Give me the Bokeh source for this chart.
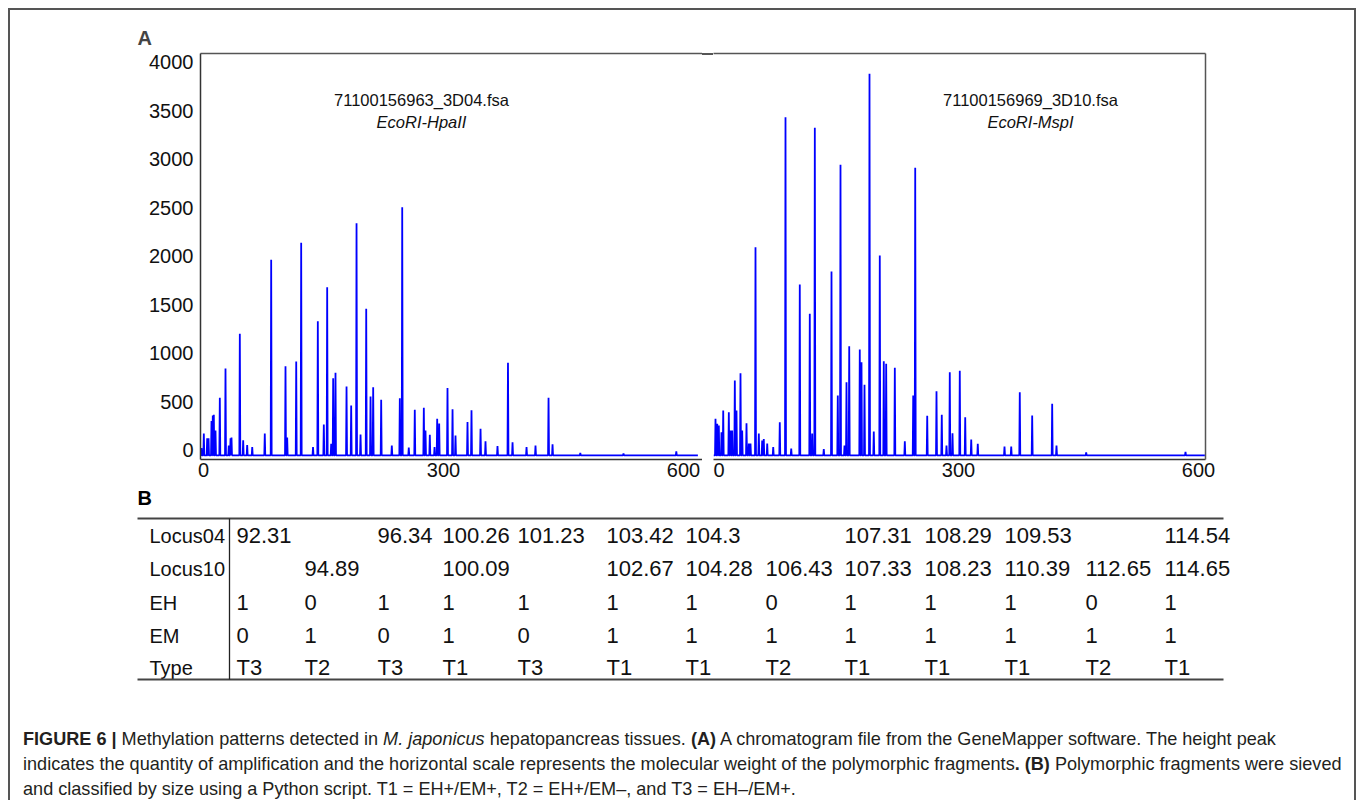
import numpy as np
from bokeh.plotting import figure
from bokeh.models import Range1d, FixedTicker, LinearAxis, Div, ColumnDataSource
from bokeh.layouts import row, column
from bokeh.core.properties import value
from bokeh.embed import file_html
from bokeh.resources import INLINE

# ---------------- data ----------------
y_ticks = [0, 500, 1000, 1500, 2000, 2500, 3000, 3500, 4000]
x_ticks = [0, 300, 600]

# EcoRI-HpaII chromatogram: peak positions (size) and heights
hpa_pos = [-2.5, 0.4, 4.6, 6.3, 10.0, 11.6, 12.9, 15.0, 20.4, 27.5, 31.6, 33.8, 35.0, 45.4, 49.6,
           54.6, 60.9, 76.6, 84.6, 102.5, 104.6, 115.9, 122.1, 136.9, 142.9, 150.4, 154.6, 159.6,
           162.1, 165.0, 178.8, 184.6, 191.3, 196.3, 203.4, 208.8, 212.1, 222.1, 235.4, 245.4,
           248.4, 256.6, 264.1, 275.4, 277.5, 282.9, 288.8, 292.1, 294.6, 305.0, 311.3, 315.0,
           330.0, 335.0, 346.3, 352.5, 367.5, 380.6, 386.3, 403.8, 415.0, 431.3, 436.3, 471.0,
           525.0, 591.0]
hpa_height = [20, 170, 120, 120, 300, 355, 365, 200, 540, 840, 45, 120, 130, 1200, 100,
              50, 30, 170, 1963, 865, 130, 913, 2138, 30, 1330, 263, 1680, 65,
              741, 797, 655, 459, 2340, 160, 1457, 552, 648, 518, 46, 535,
              2506, 25, 415, 435, 200, 157, 30, 322, 273, 640, 420, 150,
              290, 410, 220, 90, 40, 900, 80, 30, 45, 540, 60, -30,
              -35, -15]
hpa_baseline = -55
hpa_span = [-3.75, 618.0]

# EcoRI-MspI chromatogram
msp_pos = [-3.75, -1.6, 0.4, 3.75, 5.9, 12.9, 15.0, 17.1, 20.4, 22.5, 27.5, 29.6, 35.0, 37.9, 40.0,
           46.25, 50.4, 54.6, 56.6, 60.9, 68.4, 76.6, 83.75, 90.9, 101.6, 114.1, 117.1, 120.4,
           131.6, 141.25, 149.1, 152.5, 157.5, 160.0, 163.4, 176.6, 178.75, 182.5, 188.75, 194.1,
           201.6, 206.6, 209.6, 220.4, 232.9, 243.4, 245.9, 260.9, 272.5, 279.1, 285.0, 289.1,
           292.5, 301.6, 308.4, 315.9, 324.1, 357.5, 365.9, 376.6, 392.1, 417.1, 422.5, 459.6,
           583.75]
msp_height = [322, 270, 253, 184, 408, 390, 200, 200, 717, 408, 793, 200, 277, 67, 67,
              2093, 170, 98, 113, 67, 30, 287, 3435, 15, 1708, 1405, 170, 3325,
              10, 1842, 562, 2943, 46, 700, 1071, 1037, 906, 673, 3882, 191,
              2007, 916, 890, 848, 91, 562, 2912, 353, 607, 363, 46, 803,
              173, 817, 338, 108, 64, 36, 36, 597, 356, 477, 46, -25,
              -20]
msp_baseline = -55
msp_span = [-6.25, 608.0]

hpa_file = "71100156963_3D04.fsa"
hpa_enzyme = "EcoRI-HpaII"
msp_file = "71100156969_3D10.fsa"
msp_enzyme = "EcoRI-MspI"

# table
row_labels = ["Locus04", "Locus10", "EH", "EM", "Type"]
locus04 = ["92.31", "", "96.34", "100.26", "101.23", "103.42", "104.3", "", "107.31", "108.29", "109.53", "", "114.54"]
locus10 = ["", "94.89", "", "100.09", "", "102.67", "104.28", "106.43", "107.33", "108.23", "110.39", "112.65", "114.65"]
eh = [1, 0, 1, 1, 1, 1, 1, 0, 1, 1, 1, 0, 1]
em = [0, 1, 0, 1, 0, 1, 1, 1, 1, 1, 1, 1, 1]
types = ["T3", "T2", "T3", "T1", "T3", "T1", "T1", "T2", "T1", "T1", "T1", "T2", "T1"]

# ---------------- layout constants ----------------
FONT = "Liberation Sans"
BLUE = "#0000FF"
AX = "#333333"
FR = "#555555"
ROW_H = 475


def trace(pos, height, base, span):
    xs, ys = [span[0]], [base]
    for p, h in sorted(zip(pos, height)):
        xs += [p - 0.6, p, p + 0.6]
        ys += [base, h, base]
    xs.append(span[1])
    ys.append(base)
    return xs, ys


def line_axis():
    return LinearAxis(ticker=FixedTicker(ticks=[]), axis_line_color=FR, axis_line_width=1.5,
                      major_tick_out=0, major_tick_in=0, minor_tick_out=0, minor_tick_in=0,
                      major_label_standoff=0, major_label_text_font_size="0px")


def chrom(width, mb_left, mb_right, xr, has_y, title=None):
    p = figure(width=width, height=ROW_H, x_range=xr, y_range=Range1d(-98, 4092),
               output_backend="svg", toolbar_location=None,
               min_border_left=mb_left, min_border_right=mb_right,
               min_border_top=43, min_border_bottom=26,
               outline_line_color=None, y_axis_location="left" if has_y else None,
               title=title)
    p.xgrid.visible = False
    p.ygrid.visible = False
    xa = p.xaxis[0]
    xa.ticker = FixedTicker(ticks=x_ticks)
    for ax in p.axis:
        ax.major_tick_out = 0
        ax.major_tick_in = 0
        ax.minor_tick_out = 0
        ax.minor_tick_in = 0
        ax.axis_line_color = AX
        ax.axis_line_width = 1.5
        ax.major_label_text_font = FONT
        ax.major_label_text_font_size = "20px"
        ax.major_label_text_color = "#111111"
    xa.major_label_standoff = 3
    if has_y:
        ya = p.yaxis[0]
        ya.ticker = FixedTicker(ticks=y_ticks)
        ya.major_label_standoff = 7
    p.add_layout(line_axis(), "above")
    return p


# left panel
pL = chrom(692, 190, 0, Range1d(-3.75, 623.75), True, title="A")
pL.title.text_font = FONT
pL.title.text_font_size = "20px"
pL.title.text_font_style = "bold"
pL.title.align = "left"
pL.title.offset = -63
pL.title.standoff = 9
hx, hy = trace(hpa_pos, hpa_height, hpa_baseline, hpa_span)
pL.line(hx, hy, line_color=BLUE, line_width=1.8)
pL.text(x=[272.5], y=[3617], text=[hpa_file], text_font=value(FONT), text_font_size="16.5px",
        text_align="center", text_baseline="middle", text_color="#111111")
pL.text(x=[272.5], y=[3390], text=[hpa_enzyme], text_font=value(FONT), text_font_size="16.5px",
        text_font_style="italic", text_align="center", text_baseline="middle", text_color="#111111")

# right panel
pR = chrom(641, 0, 149, Range1d(-6.25, 608.75), False)
pR.add_layout(line_axis(), "right")
mx, my = trace(msp_pos, msp_height, msp_baseline, msp_span)
pR.line(mx, my, line_color=BLUE, line_width=1.8)
pR.text(x=[390], y=[3617], text=[msp_file], text_font=value(FONT), text_font_size="16.5px",
        text_align="center", text_baseline="middle", text_color="#111111")
pR.text(x=[390], y=[3390], text=[msp_enzyme], text_font=value(FONT), text_font_size="16.5px",
        text_font_style="italic", text_align="center", text_baseline="middle", text_color="#111111")

# short piece of the common top frame line bridging the two panels
gap = Div(width=11, height=2, margin=(43, 0, 0, 0), text="",
          styles={"background-color": FR, "height": "1.5px", "min-height": "1.5px",
                  "overflow": "hidden", "padding": "0"})

top_row = row(pL, gap, pR, spacing=0)

# table panel (page-pixel layout coordinates)
T_TOP, T_BOT = 485, 690
pT = figure(width=1344, height=T_BOT - T_TOP, x_range=Range1d(10, 1354), y_range=Range1d(T_BOT, T_TOP),
            output_backend="svg", toolbar_location=None, min_border_left=0, min_border_right=0,
            min_border_top=0, min_border_bottom=0, outline_line_color=None,
            x_axis_location=None, y_axis_location=None)
pT.xgrid.visible = False
pT.ygrid.visible = False

col_x = [236, 304, 377, 442, 517, 606, 685, 765, 844, 924, 1004, 1085, 1164]
row_y = [535, 568, 602, 635, 667]
table_rows = [locus04, locus10, [str(v) for v in eh], [str(v) for v in em], types]
tx, ty, tt = [], [], []
for r, vals in enumerate(table_rows):
    for c, v in enumerate(vals):
        if v != "":
            tx.append(col_x[c]); ty.append(row_y[r]); tt.append(v)
src = ColumnDataSource(dict(x=tx, y=ty, t=tt))
pT.text(x="x", y="y", text="t", source=src, text_font=value(FONT), text_font_size="22px",
        text_align="left", text_baseline="middle", text_color="#111111")
lab_src = ColumnDataSource(dict(x=[149] * len(row_labels), y=row_y, t=row_labels))
pT.text(x="x", y="y", text="t", source=lab_src, text_font=value(FONT), text_font_size="20px",
        text_align="left", text_baseline="middle", text_color="#111111")
pT.text(x=[137], y=[497], text=["B"], text_font=value(FONT), text_font_size="20px",
        text_font_style="bold", text_align="left", text_baseline="middle", text_color="#000000")
pT.segment(x0=[137, 137], y0=[518, 679], x1=[1223, 1223], y1=[518, 679], line_color="#444444", line_width=2)
pT.segment(x0=[229], y0=[518], x1=[229], y1=[679], line_color="#222222", line_width=1.3)

caption_html = (
    '<div style="margin:37px 0 0 13px;font-family:\'Liberation Sans\';font-size:18.1px;'
    'line-height:25px;color:#231f20;white-space:nowrap;">'
    '<b>FIGURE 6 |</b> Methylation patterns detected in <i>M. japonicus</i> hepatopancreas tissues. '
    '<b>(A)</b> A chromatogram file from the GeneMapper software. The height peak<br>'
    'indicates the quantity of amplification and the horizontal scale represents the molecular weight '
    'of the polymorphic fragments<b>.</b> <b>(B)</b> Polymorphic fragments were sieved<br>'
    'and classified by size using a Python script. T1 = EH+/EM+, T2 = EH+/EM\u2013, and T3 = EH\u2013/EM+.'
    '</div>'
)
caption = Div(width=1344, height=110, margin=0, text=caption_html, styles={"overflow": "hidden"})

root = column(top_row, pT, caption, spacing=0, margin=(8, 0, 0, 8),
              styles={"border-top": "2px solid #555", "border-left": "2px solid #555",
                      "border-right": "2px solid #555"})

open("out.html", "w").write(file_html(root, INLINE))
